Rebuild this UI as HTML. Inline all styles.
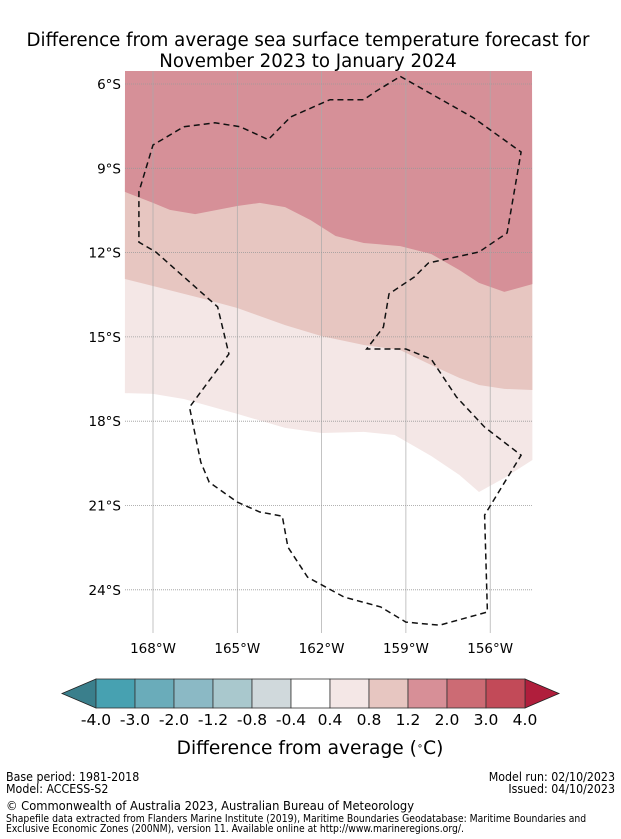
<!DOCTYPE html>
<html><head><meta charset="utf-8"><style>
body{margin:0;background:#fff;width:621px;height:839px;overflow:hidden;font-family:"Liberation Sans","DejaVu Sans",sans-serif}
svg{position:absolute;left:0;top:0}
</style></head><body>
<svg id="chart" width="621" height="839" viewBox="0 0 621 839" font-family="DejaVu Sans, Liberation Sans, sans-serif">
<text x="308" y="46" font-size="18.2" text-anchor="middle">Difference from average sea surface temperature forecast for</text>
<text x="308" y="67" font-size="18.2" text-anchor="middle">November 2023 to January 2024</text>
<g id="map"></g>
<g id="axes"></g>
<g id="cbar"></g>
<text x="310" y="754" font-size="18.6" text-anchor="middle">Difference from average (<tspan baseline-shift="super" font-size="10">∘</tspan>C)</text>
<g font-size="12.3" font-family="DejaVu Sans Condensed, Liberation Sans Narrow, Liberation Sans, sans-serif">
<text x="6" y="781">Base period: 1981-2018</text>
<text x="6" y="793">Model: ACCESS-S2</text>
<text x="615" y="781" text-anchor="end">Model run: 02/10/2023</text>
<text x="615" y="793" text-anchor="end">Issued: 04/10/2023</text>
<text x="6" y="810" font-size="12.8">© Commonwealth of Australia 2023, Australian Bureau of Meteorology</text>
<text x="6" y="822" font-size="10.3">Shapefile data extracted from Flanders Marine Institute (2019), Maritime Boundaries Geodatabase: Maritime Boundaries and</text>
<text x="6" y="832" font-size="10.3">Exclusive Economic Zones (200NM), version 11. Available online at http://www.marineregions.org/.</text>
</g>
</svg>
<script>
// ---- data ----
const lonTicks = [-168,-165,-162,-159,-156];
const latTicks = [-6,-9,-12,-15,-18,-21,-24];
const contourLons12 = [-169.0,-168,-167.4,-166.5,-165,-164.2,-163.3,-162.4,-161.5,-160.5,-159.2,-158.1,-157.1,-156.4,-155.5,-154.5];
const contourLats12 = [-9.84,-10.23,-10.48,-10.63,-10.34,-10.23,-10.38,-10.84,-11.41,-11.66,-11.77,-12.05,-12.62,-13.08,-13.4,-13.12];
const contourLons08 = [-169.0,-168,-166.3,-165,-163.3,-162,-160.5,-159.2,-158.1,-157.1,-156.4,-155.5,-154.5];
const contourLats08 = [-12.94,-13.19,-13.62,-13.97,-14.58,-14.97,-15.29,-15.47,-16.0,-16.46,-16.71,-16.85,-16.89];
const contourLons04 = [-169.0,-168,-166.9,-165,-163.3,-162,-160.5,-159.4,-158.1,-157.1,-156.4,-155.5,-154.5];
const contourLats04 = [-17.0,-17.03,-17.21,-17.74,-18.24,-18.42,-18.38,-18.49,-19.24,-19.91,-20.52,-20.02,-19.38];
const cbarLevels = ["-4.0","-3.0","-2.0","-1.2","-0.8","-0.4","0.4","0.8","1.2","2.0","3.0","4.0"];
const cbarColors = ["#47a1b1","#6aacba","#8bb9c5","#a9c8cd","#d0d9dc","#ffffff","#f4e7e6","#e7c6c1","#d78f97","#cc6b74","#c24a58"];
const eezLons = [-159.2,-156.6,-154.9,-155.4,-156.4,-158.2,-158.7,-159.6,-159.8,-160.4,-159.0,-158.1,-157.2,-156.2,-154.9,-156.2,-156.1,-157.8,-159.0,-159.9,-161.2,-162.5,-163.2,-163.4,-164.2,-165.0,-166.0,-166.3,-166.7,-165.3,-165.7,-167.1,-167.9,-168.5,-168.5,-168.0,-166.9,-165.8,-164.9,-163.9,-163.1,-161.7,-160.5,-160.1,-159.2];
const eezLats = [-5.73,-7.2,-8.42,-11.3,-11.98,-12.37,-12.87,-13.47,-14.65,-15.43,-15.43,-15.79,-17.14,-18.21,-19.21,-21.34,-24.79,-25.26,-25.15,-24.61,-24.26,-23.55,-22.48,-21.38,-21.23,-20.88,-20.17,-19.46,-17.5,-15.61,-13.93,-12.69,-11.98,-11.63,-9.84,-8.17,-7.52,-7.38,-7.52,-7.98,-7.17,-6.56,-6.56,-6.28,-5.73];
// ---- axes ----
const X = lon => 153 + (lon + 168) * 28.1;
const Y = lat => 84 + (-lat - 6) * 28.1;
const NS = "http://www.w3.org/2000/svg";
function mk(tag, attrs, parent){const e=document.createElementNS(NS,tag);for(const k in attrs)e.setAttribute(k,attrs[k]);parent.appendChild(e);return e;}
const map = document.getElementById('map');
const L=125,R=532,T=71,B=633;
mk('rect',{x:L,y:T,width:R-L,height:B-T,fill:'#fff'},map);
function band(lons, lats, color, name){
  let d = `M${L},${T} L${R},${T} `;
  for(let i=lons.length-1;i>=0;i--) d += `L${X(lons[i]).toFixed(1)},${Y(lats[i]).toFixed(1)} `;
  d += 'Z';
  const p = mk('path',{d, fill:color},map);
  
  
}
band(contourLons04, contourLats04, '#f4e7e6', 'band-0.4-0.8');
band(contourLons08, contourLats08, '#e7c6c1', 'band-0.8-1.2');
band(contourLons12, contourLats12, '#d69098', 'band-1.2-2.0');
const ax = document.getElementById('axes');
lonTicks.forEach(lon=>{
  const l = mk('line',{x1:X(lon),x2:X(lon),y1:T,y2:B,stroke:'#aaa','stroke-width':0.7},ax);
  
  
  const t = mk('text',{x:X(lon),y:653,'font-size':13.5,'text-anchor':'middle'},ax);
  t.textContent = Math.abs(lon)+'°W';
  
  
});
latTicks.forEach(lat=>{
  const l = mk('line',{x1:L,x2:R,y1:Y(lat),y2:Y(lat),stroke:'#999','stroke-width':0.8,'stroke-dasharray':'1,1'},ax);
  
  
  const t = mk('text',{x:121,y:Y(lat)+5,'font-size':13.5,'text-anchor':'end'},ax);
  t.textContent = Math.abs(lat)+'°S';
  
  
});
let ed='';
eezLons.forEach((lon,i)=>{ed+=(i?'L':'M')+X(lon).toFixed(1)+','+Y(eezLats[i]).toFixed(1)+' ';});
const eez = mk('path',{d:ed,fill:'none',stroke:'#111','stroke-width':1.5,'stroke-dasharray':'6,4'},ax);


// colorbar
const cb = document.getElementById('cbar');
const cx0=96, cw=39, cy=679, ch=29;
const lt = mk('path',{d:`M${cx0},${cy} L62,${cy+ch/2} L${cx0},${cy+ch} Z`,fill:'#3a7f8c',stroke:'#222','stroke-width':0.8},cb);


const xe = cx0+cw*cbarColors.length;
const rt = mk('path',{d:`M${xe},${cy} L559,${cy+ch/2} L${xe},${cy+ch} Z`,fill:'#b01e3c',stroke:'#222','stroke-width':0.8},cb);


cbarColors.forEach((c,i)=>{
  const r = mk('rect',{x:cx0+i*cw,y:cy,width:cw,height:ch,fill:c,stroke:'#333','stroke-width':0.8},cb);
  
  
});
cbarLevels.forEach((v,i)=>{
  const t = mk('text',{x:cx0+i*cw,y:725,'font-size':15.5,'text-anchor':'middle'},cb);
  t.textContent=v;
  
  
});
</script>
</body></html>
